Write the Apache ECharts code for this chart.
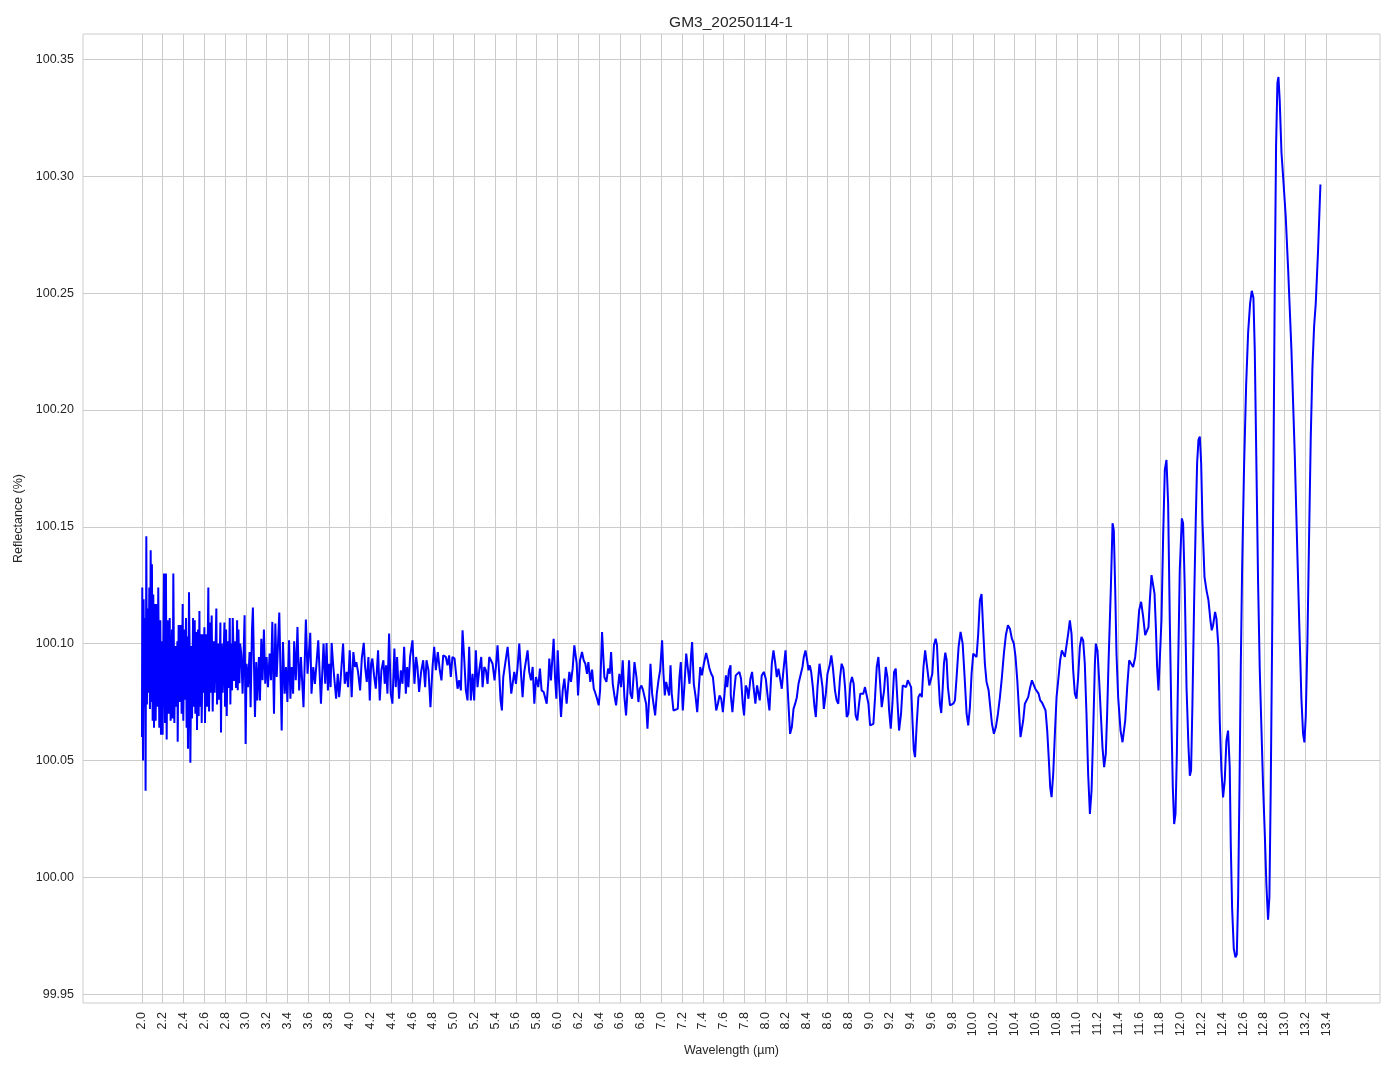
<!DOCTYPE html>
<html><head><meta charset="utf-8">
<script src="https://cdn.jsdelivr.net/npm/echarts/dist/echarts.min.js"></script>
<style>html,body{margin:0;padding:0;background:#fff}#chart{width:1394px;height:1069px}</style>
</head><body><div id="chart"></div>
<script>
const chartTitle = 'GM3_20250114-1';
const xName = 'Wavelength (µm)';
const yName = 'Reflectance (%)';
const xTicks = [2.0,2.2,2.4,2.6,2.8,3.0,3.2,3.4,3.6,3.8,4.0,4.2,4.4,4.6,4.8,5.0,5.2,5.4,5.6,5.8,6.0,6.2,6.4,6.6,6.8,7.0,7.2,7.4,7.6,7.8,8.0,8.2,8.4,8.6,8.8,9.0,9.2,9.4,9.6,9.8,10.0,10.2,10.4,10.6,10.8,11.0,11.2,11.4,11.6,11.8,12.0,12.2,12.4,12.6,12.8,13.0,13.2,13.4];
const yTicks = [99.95,100.00,100.05,100.10,100.15,100.20,100.25,100.30,100.35];

// [wavelength (µm), reflectance (%)]
const spec_2_0_to_2_9 = [[2.000,100.060],[2.003,100.124],[2.010,100.050],[2.016,100.119],[2.022,100.073],[2.029,100.111],[2.035,100.037],[2.042,100.146],[2.048,100.074],[2.055,100.115],[2.061,100.079],[2.071,100.124],[2.077,100.072],[2.084,100.140],[2.090,100.075],[2.096,100.134],[2.103,100.067],[2.109,100.121],[2.116,100.064],[2.125,100.117],[2.132,100.067],[2.141,100.117],[2.148,100.073],[2.157,100.124],[2.167,100.064],[2.177,100.110],[2.183,100.061],[2.193,100.101],[2.199,100.061],[2.212,100.130],[2.222,100.066],[2.231,100.130],[2.238,100.059],[2.247,100.110],[2.257,100.070],[2.267,100.111],[2.276,100.067],[2.289,100.106],[2.296,100.068],[2.302,100.130],[2.312,100.066],[2.321,100.099],[2.331,100.073],[2.341,100.101],[2.344,100.058],[2.353,100.108],[2.363,100.075],[2.373,100.108],[2.382,100.070],[2.392,100.117],[2.398,100.067],[2.408,100.106],[2.414,100.076],[2.424,100.111],[2.430,100.064],[2.437,100.103],[2.443,100.055],[2.453,100.122],[2.459,100.096],[2.466,100.049],[2.475,100.099],[2.482,100.068],[2.492,100.111],[2.498,100.073],[2.508,100.110],[2.514,100.070],[2.524,100.105],[2.530,100.063],[2.540,100.106],[2.546,100.069],[2.553,100.114],[2.559,100.073],[2.569,100.104],[2.575,100.066],[2.585,100.104],[2.591,100.079],[2.601,100.107],[2.607,100.066],[2.617,100.104],[2.626,100.073],[2.639,100.124],[2.646,100.071],[2.655,100.109],[2.662,100.079],[2.671,100.112],[2.681,100.071],[2.691,100.101],[2.700,100.079],[2.716,100.115],[2.723,100.074],[2.735,100.100],[2.742,100.076],[2.755,100.109],[2.761,100.062],[2.768,100.100],[2.777,100.079],[2.794,100.109],[2.800,100.073],[2.810,100.106],[2.816,100.069],[2.826,100.101],[2.835,100.081],[2.845,100.111],[2.851,100.074],[2.858,100.100],[2.867,100.080],[2.874,100.111],[2.887,100.084],[2.899,100.101],[2.906,100.081],[2.916,100.110],[2.922,100.080],[2.929,100.106],[2.938,100.083],[2.945,100.100]];
const spec_2_9_to_3_9 = [[2.956,100.0957],[2.969,100.0786],[2.988,100.1121],[2.998,100.0571],[3.007,100.0914],[3.020,100.0814],[3.036,100.0964],[3.046,100.0728],[3.059,100.1057],[3.068,100.1154],[3.088,100.0686],[3.100,100.0921],[3.110,100.0757],[3.126,100.0943],[3.136,100.0757],[3.149,100.1021],[3.161,100.0843],[3.174,100.1060],[3.187,100.0828],[3.200,100.0943],[3.213,100.0814],[3.229,100.0957],[3.242,100.0843],[3.255,100.1093],[3.271,100.0700],[3.284,100.1086],[3.297,100.0857],[3.322,100.1133],[3.345,100.0628],[3.357,100.1007],[3.374,100.0786],[3.387,100.0900],[3.400,100.0750],[3.416,100.1014],[3.429,100.0764],[3.442,100.0900],[3.455,100.0786],[3.465,100.1010],[3.481,100.0843],[3.497,100.1071],[3.513,100.0800],[3.530,100.0943],[3.555,100.0728],[3.578,100.1103],[3.594,100.0871],[3.620,100.1046],[3.632,100.0786],[3.649,100.0900],[3.665,100.0828],[3.697,100.1014],[3.723,100.0743],[3.748,100.1000],[3.764,100.0828],[3.777,100.1003],[3.790,100.0800],[3.803,100.0914],[3.816,100.0814],[3.826,100.1003],[3.842,100.0900],[3.869,100.0764],[3.885,100.0871],[3.898,100.0771]];
const spec_3_9_to_5_8 = [[3.907,100.0814],[3.936,100.1000],[3.952,100.0828],[3.971,100.0879],[3.984,100.0814],[4.000,100.0971],[4.019,100.0771],[4.035,100.0964],[4.051,100.0900],[4.064,100.0921],[4.080,100.0879],[4.100,100.0800],[4.116,100.0936],[4.135,100.1003],[4.148,100.0900],[4.164,100.0836],[4.180,100.0943],[4.193,100.0757],[4.206,100.0914],[4.218,100.0936],[4.234,100.0864],[4.251,100.0807],[4.273,100.0971],[4.289,100.0757],[4.305,100.0886],[4.324,100.0929],[4.337,100.0828],[4.350,100.0907],[4.363,100.0786],[4.379,100.1043],[4.395,100.0786],[4.411,100.0743],[4.430,100.0979],[4.443,100.0814],[4.456,100.0943],[4.475,100.0764],[4.492,100.0886],[4.508,100.0828],[4.524,100.0986],[4.540,100.0786],[4.553,100.0900],[4.565,100.0814],[4.581,100.0943],[4.604,100.1014],[4.623,100.0828],[4.639,100.0943],[4.652,100.0900],[4.668,100.0793],[4.687,100.0879],[4.707,100.0929],[4.726,100.0814],[4.739,100.0929],[4.758,100.0886],[4.777,100.0728],[4.797,100.0900],[4.813,100.0986],[4.829,100.0886],[4.848,100.0964],[4.867,100.0886],[4.883,100.0843],[4.900,100.0950],[4.925,100.0943],[4.941,100.0907],[4.957,100.0950],[4.973,100.0857],[4.989,100.0943],[5.009,100.0936],[5.025,100.0943],[5.038,100.0807],[5.054,100.0843],[5.070,100.0800],[5.086,100.1057],[5.102,100.0936],[5.118,100.0800],[5.134,100.0757],[5.150,100.0986],[5.166,100.0757],[5.182,100.0871],[5.198,100.0757],[5.214,100.0971],[5.230,100.0814],[5.247,100.0886],[5.266,100.0943],[5.279,100.0814],[5.295,100.0900],[5.311,100.0886],[5.327,100.0828],[5.343,100.0943],[5.359,100.0929],[5.375,100.0914],[5.394,100.0843],[5.407,100.0900],[5.423,100.0993],[5.439,100.0871],[5.452,100.0757],[5.465,100.0714],[5.478,100.0857],[5.497,100.0857],[5.520,100.0986],[5.536,100.0900],[5.555,100.0786],[5.568,100.0828],[5.584,100.0879],[5.600,100.0828],[5.616,100.0900],[5.632,100.1000],[5.651,100.0857],[5.664,100.0771],[5.680,100.0879],[5.696,100.0886],[5.712,100.0971],[5.728,100.0879],[5.745,100.0843],[5.761,100.0900],[5.777,100.0743],[5.793,100.0857]];
const spec_5_8_to_7_7 = [[5.815,100.0814],[5.831,100.0893],[5.847,100.0800],[5.867,100.0793],[5.880,100.0800],[5.896,100.0743],[5.912,100.0843],[5.921,100.0936],[5.937,100.0843],[5.963,100.1021],[5.976,100.0857],[5.989,100.0764],[6.002,100.0971],[6.015,100.0836],[6.034,100.0686],[6.050,100.0800],[6.066,100.0850],[6.088,100.0743],[6.101,100.0814],[6.114,100.0879],[6.130,100.0836],[6.146,100.0893],[6.162,100.0993],[6.185,100.0914],[6.198,100.0778],[6.217,100.0929],[6.236,100.0964],[6.252,100.0929],[6.268,100.0914],[6.284,100.0871],[6.297,100.0921],[6.316,100.0836],[6.333,100.0889],[6.349,100.0807],[6.361,100.0793],[6.381,100.0764],[6.397,100.0736],[6.410,100.0800],[6.429,100.1050],[6.451,100.0857],[6.471,100.0836],[6.487,100.0893],[6.503,100.0871],[6.516,100.0964],[6.532,100.0828],[6.548,100.0778],[6.564,100.0736],[6.580,100.0736],[6.596,100.0871],[6.612,100.0814],[6.628,100.0929],[6.644,100.0771],[6.660,100.0693],[6.676,100.0814],[6.689,100.0929],[6.702,100.0786],[6.718,100.0764],[6.741,100.0921],[6.760,100.0857],[6.779,100.0750],[6.792,100.0807],[6.808,100.0821],[6.824,100.0800],[6.837,100.0807],[6.853,100.0743],[6.866,100.0636],[6.882,100.0764],[6.895,100.0914],[6.911,100.0786],[6.924,100.0743],[6.940,100.0693],[6.956,100.0786],[6.972,100.0843],[6.988,100.0886],[7.007,100.1014],[7.020,100.0871],[7.033,100.0778],[7.046,100.0836],[7.062,100.0828],[7.075,100.0778],[7.088,100.0907],[7.100,100.0786],[7.116,100.0714],[7.133,100.0714],[7.158,100.0721],[7.174,100.0857],[7.187,100.0921],[7.206,100.0714],[7.223,100.0828],[7.239,100.0957],[7.255,100.0893],[7.271,100.0828],[7.287,100.0957],[7.296,100.1007],[7.312,100.0828],[7.328,100.0778],[7.345,100.0707],[7.357,100.0786],[7.374,100.0900],[7.390,100.0864],[7.409,100.0914],[7.431,100.0960],[7.447,100.0929],[7.463,100.0893],[7.480,100.0871],[7.496,100.0857],[7.512,100.0786],[7.528,100.0714],[7.544,100.0743],[7.560,100.0778],[7.576,100.0764],[7.592,100.0707],[7.608,100.0786],[7.621,100.0864],[7.634,100.0814],[7.650,100.0886],[7.666,100.0907]];
const spec_7_7_to_9_5 = [[7.668,100.0778],[7.684,100.0707],[7.700,100.0793],[7.716,100.0864],[7.735,100.0871],[7.751,100.0879],[7.767,100.0850],[7.783,100.0743],[7.796,100.0693],[7.812,100.0821],[7.825,100.0807],[7.838,100.0764],[7.857,100.0850],[7.873,100.0879],[7.889,100.0807],[7.905,100.0743],[7.921,100.0821],[7.934,100.0814],[7.947,100.0757],[7.966,100.0864],[7.986,100.0879],[8.005,100.0850],[8.024,100.0771],[8.040,100.0714],[8.063,100.0914],[8.079,100.0971],[8.095,100.0921],[8.111,100.0857],[8.127,100.0893],[8.143,100.0886],[8.159,100.0807],[8.175,100.0886],[8.195,100.0971],[8.211,100.0850],[8.223,100.0743],[8.239,100.0614],[8.256,100.0643],[8.272,100.0721],[8.288,100.0743],[8.304,100.0771],[8.320,100.0828],[8.339,100.0836],[8.358,100.0900],[8.371,100.0943],[8.387,100.0971],[8.403,100.0929],[8.416,100.0886],[8.429,100.0907],[8.442,100.0879],[8.458,100.0814],[8.474,100.0728],[8.487,100.0686],[8.503,100.0814],[8.522,100.0914],[8.535,100.0921],[8.551,100.0814],[8.564,100.0721],[8.583,100.0786],[8.599,100.0871],[8.620,100.0907],[8.636,100.0950],[8.652,100.0893],[8.671,100.0800],[8.687,100.0757],[8.703,100.0743],[8.719,100.0850],[8.735,100.0914],[8.752,100.0893],[8.768,100.0814],[8.784,100.0686],[8.800,100.0700],[8.819,100.0828],[8.835,100.0857],[8.851,100.0828],[8.870,100.0693],[8.886,100.0671],[8.903,100.0743],[8.915,100.0786],[8.928,100.0793],[8.944,100.0786],[8.960,100.0814],[8.976,100.0821],[8.993,100.0743],[9.009,100.0650],[9.025,100.0643],[9.041,100.0657],[9.057,100.0771],[9.073,100.0900],[9.089,100.0943],[9.105,100.0836],[9.121,100.0728],[9.144,100.0800],[9.160,100.0900],[9.176,100.0857],[9.192,100.0714],[9.208,100.0636],[9.224,100.0743],[9.240,100.0879],[9.256,100.0893],[9.272,100.0757],[9.288,100.0628],[9.307,100.0700],[9.323,100.0821],[9.340,100.0828],[9.356,100.0814],[9.372,100.0843],[9.388,100.0843],[9.404,100.0814],[9.417,100.0671],[9.430,100.0543],[9.442,100.0514],[9.458,100.0657],[9.474,100.0771],[9.491,100.0786],[9.507,100.0771],[9.523,100.0900],[9.539,100.0971]];
const spec_9_5_to_11_3 = [[9.579,100.0821],[9.592,100.0814],[9.608,100.0871],[9.624,100.0993],[9.640,100.1021],[9.653,100.0993],[9.665,100.0871],[9.681,100.0743],[9.694,100.0703],[9.707,100.0800],[9.720,100.0914],[9.733,100.0961],[9.746,100.0929],[9.758,100.0814],[9.778,100.0736],[9.794,100.0736],[9.810,100.0743],[9.826,100.0757],[9.842,100.0857],[9.861,100.0986],[9.880,100.1050],[9.900,100.1000],[9.919,100.0857],[9.938,100.0700],[9.954,100.0650],[9.970,100.0728],[9.986,100.0871],[10.002,100.0957],[10.018,100.0957],[10.034,100.0943],[10.050,100.1043],[10.066,100.1186],[10.082,100.1212],[10.098,100.1057],[10.114,100.0914],[10.130,100.0836],[10.150,100.0800],[10.166,100.0728],[10.182,100.0657],[10.201,100.0614],[10.220,100.0643],[10.240,100.0700],[10.259,100.0771],[10.278,100.0857],[10.297,100.0957],[10.316,100.1036],[10.336,100.1079],[10.355,100.1064],[10.374,100.1021],[10.393,100.1000],[10.409,100.0943],[10.426,100.0843],[10.441,100.0728],[10.457,100.0600],[10.470,100.0600],[10.483,100.0671],[10.499,100.0743],[10.515,100.0750],[10.531,100.0771],[10.547,100.0807],[10.567,100.0843],[10.583,100.0836],[10.599,100.0807],[10.615,100.0800],[10.631,100.0786],[10.647,100.0757],[10.666,100.0746],[10.682,100.0743],[10.698,100.0714],[10.714,100.0628],[10.730,100.0500],[10.743,100.0385],[10.756,100.0343],[10.772,100.0443],[10.788,100.0614],[10.804,100.0771],[10.823,100.0857],[10.839,100.0929],[10.855,100.0971],[10.868,100.0979],[10.884,100.0943],[10.900,100.0950],[10.916,100.1043],[10.932,100.1100],[10.948,100.1043],[10.964,100.0886],[10.980,100.0786],[10.996,100.0764],[11.012,100.0857],[11.028,100.0986],[11.044,100.1029],[11.060,100.1014],[11.076,100.0914],[11.092,100.0700],[11.108,100.0443],[11.125,100.0271],[11.141,100.0371],[11.157,100.0628],[11.173,100.0914],[11.182,100.1000],[11.198,100.0971],[11.214,100.0843],[11.230,100.0700],[11.246,100.0557],[11.262,100.0471],[11.278,100.0528],[11.291,100.0700],[11.304,100.0914]];
const spec_11_3_to_12_5 = [[11.327,100.1243],[11.343,100.1515],[11.355,100.1486],[11.368,100.1243],[11.381,100.0957],[11.397,100.0771],[11.420,100.0628],[11.439,100.0578],[11.452,100.0585],[11.465,100.0671],[11.484,100.0814],[11.503,100.0929],[11.522,100.0936],[11.541,100.0900],[11.561,100.0943],[11.580,100.1029],[11.599,100.1143],[11.618,100.1179],[11.638,100.1114],[11.657,100.1036],[11.676,100.1029],[11.689,100.1071],[11.702,100.1186],[11.718,100.1293],[11.734,100.1286],[11.747,100.1214],[11.760,100.1071],[11.772,100.0900],[11.785,100.0800],[11.798,100.0793],[11.814,100.1100],[11.830,100.1457],[11.846,100.1743],[11.862,100.1786],[11.878,100.1600],[11.894,100.1100],[11.910,100.0671],[11.923,100.0386],[11.936,100.0228],[11.949,100.0271],[11.962,100.0528],[11.974,100.0886],[11.990,100.1314],[12.010,100.1536],[12.022,100.1515],[12.038,100.1243],[12.055,100.0814],[12.074,100.0557],[12.087,100.0435],[12.099,100.0457],[12.112,100.0743],[12.128,100.1172],[12.144,100.1529],[12.157,100.1772],[12.170,100.1872],[12.183,100.1886],[12.196,100.1772],[12.208,100.1529],[12.228,100.1286],[12.247,100.1229],[12.266,100.1186],[12.285,100.1100],[12.298,100.1057],[12.311,100.1079],[12.330,100.1136],[12.343,100.1107],[12.362,100.0986],[12.375,100.0671],[12.391,100.0457],[12.407,100.0342],[12.423,100.0414],[12.439,100.0585],[12.455,100.0628],[12.471,100.0471]];
const spec_12_5_to_13_4 = [[12.481,100.0142],[12.494,99.9868],[12.510,99.9694],[12.526,99.9657],[12.539,99.9669],[12.552,99.9918],[12.565,100.0391],[12.577,100.0888],[12.590,100.1311],[12.609,100.1759],[12.629,100.2107],[12.648,100.2331],[12.667,100.2455],[12.683,100.2510],[12.699,100.2480],[12.712,100.2256],[12.728,100.1759],[12.744,100.1261],[12.760,100.0888],[12.776,100.0639],[12.792,100.0391],[12.808,100.0192],[12.824,99.9968],[12.840,99.9818],[12.853,99.9918],[12.866,100.0391],[12.879,100.1012],[12.892,100.1759],[12.904,100.2505],[12.917,100.3127],[12.930,100.3400],[12.940,100.3425],[12.952,100.3326],[12.969,100.3102],[12.988,100.2978],[13.010,100.2828],[13.033,100.2604],[13.065,100.2256],[13.097,100.1808],[13.122,100.1386],[13.145,100.1012],[13.161,100.0764],[13.177,100.0614],[13.190,100.0577],[13.203,100.0689],[13.219,100.1012],[13.235,100.1460],[13.251,100.1883],[13.267,100.2182],[13.283,100.2356],[13.299,100.2455],[13.321,100.2679],[13.344,100.2965]];

const spectrum = [].concat(spec_2_0_to_2_9, spec_2_9_to_3_9, spec_3_9_to_5_8, spec_5_8_to_7_7,
  spec_7_7_to_9_5, spec_9_5_to_11_3, spec_11_3_to_12_5, spec_12_5_to_13_4);

const FONT = '"Liberation Sans", Arial, "DejaVu Sans", sans-serif';
const TXT = '#262626';
const GRIDC = '#cccccc';

const chart = echarts.init(document.getElementById('chart'), null, {renderer: 'canvas'});
chart.setOption({
  animation: false,
  backgroundColor: '#ffffff',
  title: {
    text: chartTitle, left: 726, top: 10, textAlign: 'center',
    textStyle: {fontFamily: FONT, fontSize: 15.5, fontWeight: 'normal', color: TXT}
  },
  grid: {left: 83, right: 14, top: 34, bottom: 66, show: true, borderColor: GRIDC, borderWidth: 1,
         containLabel: false, outerBoundsMode: 'none'},
  xAxis: {
    type: 'value', min: 1.4325, max: 13.9175,
    name: xName, nameLocation: 'middle', nameGap: 37,
    nameTextStyle: {fontFamily: FONT, fontSize: 12.5, color: TXT},
    axisLine: {show: false},
    axisTick: {show: false, customValues: xTicks},
    axisLabel: {customValues: xTicks, rotate: 90, margin: 9, fontFamily: FONT, fontSize: 12.5, color: TXT,
                formatter: v => Number(v).toFixed(1)},
    splitLine: {show: true, lineStyle: {color: GRIDC, width: 1}}
  },
  yAxis: {
    type: 'value', min: 99.9462, max: 100.3609,
    name: yName, nameLocation: 'middle', nameGap: 58, nameRotate: 90,
    nameTextStyle: {fontFamily: FONT, fontSize: 12.5, color: TXT},
    axisLine: {show: false},
    axisTick: {show: false, customValues: yTicks},
    axisLabel: {customValues: yTicks, margin: 9, fontFamily: FONT, fontSize: 12.5, color: TXT,
                formatter: v => Number(v).toFixed(2)},
    splitLine: {show: true, lineStyle: {color: GRIDC, width: 1}}
  },
  series: [{
    type: 'line', data: spectrum, showSymbol: false, symbol: 'none', silent: true,
    lineStyle: {color: '#0000ff', width: 2}, itemStyle: {color: '#0000ff'}
  }]
});
</script></body></html>
